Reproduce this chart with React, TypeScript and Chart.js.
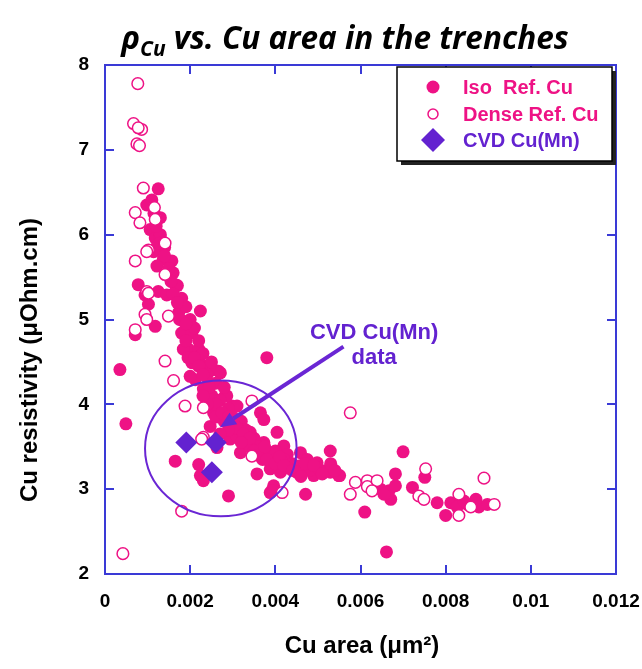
import React, { useEffect, useRef } from 'react';
import { Chart, registerables } from 'chart.js';

Chart.register(...registerables);

// ---- data ----
const isoX = [
  0.00125, 0.00098, 0.0011, 0.00106, 0.00118, 0.00122, 0.00129, 0.00114, 0.00149, 0.00137,
  0.00157, 0.00122, 0.00078, 0.00094, 0.00102, 0.00125, 0.00145, 0.00165, 0.00118, 0.00071,
  0.00224, 0.00173, 0.00184, 0.0018, 0.00204, 0.00196, 0.0022, 0.00204, 0.00235, 0.00267,
  0.00212, 0.00243, 0.00035, 0.00282, 0.00298, 0.00251, 0.0038, 0.00184, 0.00224, 0.00255,
  0.00271, 0.002, 0.00231, 0.00286, 0.0031, 0.00255, 0.00365, 0.00373, 0.00247, 0.0031,
  0.00341, 0.00404, 0.00294, 0.00333, 0.00373, 0.0042, 0.00318, 0.00357, 0.00388, 0.00428,
  0.00459, 0.00475, 0.00498, 0.00529, 0.00529, 0.00549, 0.0049, 0.00467, 0.00357, 0.00388,
  0.00412, 0.00435, 0.00396, 0.00388, 0.0029, 0.00471, 0.00165, 0.0022, 0.00224, 0.00231,
  0.007, 0.00551, 0.00682, 0.00647, 0.00667, 0.00671, 0.00655, 0.00682, 0.00722, 0.00751,
  0.0061, 0.00661, 0.0078, 0.008, 0.00812, 0.00835, 0.00827, 0.00851, 0.00871, 0.00878,
  0.00898, 0.00843, 0.00049, 0.00263, 0.00392,
  0.0016, 0.0017, 0.0018, 0.0019, 0.002, 0.0021, 0.0019, 0.0022, 0.0023, 0.0025,
  0.0024, 0.0026, 0.0028, 0.0027, 0.0029, 0.003, 0.0032, 0.0028, 0.0026, 0.0033,
  0.0035, 0.0036, 0.0038, 0.004, 0.0042, 0.0044, 0.0046, 0.0031, 0.0034, 0.0037,
  0.0039, 0.0043, 0.0045, 0.0048, 0.005, 0.0052, 0.0013, 0.0013, 0.0014,
  0.00115, 0.0012, 0.00128, 0.0014, 0.0015, 0.00155, 0.0016, 0.0017, 0.00175, 0.0019,
  0.00195, 0.0021, 0.0022, 0.0023, 0.00245, 0.0026, 0.00275, 0.0029, 0.003, 0.0031,
  0.00325, 0.0034, 0.0035, 0.0036, 0.00375, 0.0038, 0.004, 0.0041, 0.0042, 0.0044,
  0.0046, 0.0047, 0.0049, 0.0051, 0.0053, 0.0054, 0.0032, 0.0029, 0.0027, 0.0024,
  0.0023,
];
const isoY = [
  6.54, 6.35, 6.41, 6.06, 5.96, 5.86, 5.98, 5.8, 5.69, 5.71,
  5.69, 5.63, 5.41, 5.29, 5.18, 5.33, 5.29, 5.41, 4.92, 4.82,
  5.1, 5.08, 4.98, 4.84, 4.84, 4.65, 4.65, 4.49, 4.45, 4.39,
  4.29, 4.25, 4.41, 4.1, 3.98, 4.1, 4.55, 4.65, 4.57, 4.41,
  4.37, 4.33, 4.18, 4.1, 3.98, 3.9, 3.9, 3.82, 3.74, 3.71,
  3.67, 3.67, 3.59, 3.55, 3.55, 3.51, 3.43, 3.43, 3.39, 3.41,
  3.43, 3.35, 3.31, 3.45, 3.2, 3.16, 3.16, 3.24, 3.18, 3.24,
  3.2, 3.27, 3.04, 2.96, 2.92, 2.94, 3.33, 3.29, 3.16, 3.1,
  3.44, 3.16, 3.18, 3.0, 2.98, 2.88, 2.94, 3.04, 3.02, 3.14,
  2.73, 2.26, 2.84, 2.69, 2.84, 2.86, 2.79, 2.82, 2.88, 2.79,
  2.82, 2.86, 3.77, 3.49, 2.98,
  5.55, 5.4, 5.25, 5.15, 5.0, 4.9, 4.75, 4.75, 4.6, 4.5,
  4.35, 4.25, 4.2, 4.05, 3.95, 3.85, 3.8, 3.8, 3.85, 3.7,
  3.6, 3.5, 3.45, 3.45, 3.35, 3.3, 3.28, 3.62, 3.5, 3.35,
  3.3, 3.25, 3.2, 3.22, 3.25, 3.22, 6.2, 6.0, 5.85,
  6.25, 6.1, 5.9, 5.75, 5.6, 5.45, 5.3, 5.2, 5.0, 4.95,
  4.55, 4.55, 4.45, 4.35, 4.2, 4.0, 3.9, 3.85, 3.78, 3.72,
  3.65, 3.6, 3.45, 3.4, 3.5, 3.35, 3.3, 3.38, 3.28, 3.22,
  3.15, 3.3, 3.28, 3.18, 3.3, 3.22, 3.55, 3.7, 3.65, 4.0,
  4.1,
];

const denseX = [
  0.00042, 0.00077, 0.00067, 0.00086, 0.00078, 0.00075, 0.00081, 0.0009, 0.00071, 0.00082,
  0.00118, 0.00141, 0.00102, 0.00071, 0.00141, 0.00098, 0.00102, 0.00094, 0.00098, 0.00149,
  0.00071, 0.00141, 0.00161, 0.00188, 0.00098, 0.00345, 0.00231, 0.00576, 0.00231, 0.00588,
  0.00576, 0.00416, 0.0018, 0.00345, 0.00227, 0.00616, 0.00616, 0.00639, 0.00627, 0.00753,
  0.00737, 0.00749, 0.0089, 0.00831, 0.00831, 0.00914, 0.00859, 0.00116,
];
const denseY = [
  2.24, 7.78, 7.31, 7.24, 7.26, 7.07, 7.05, 6.55, 6.26, 6.14,
  6.18, 5.9, 5.82, 5.69, 5.53, 5.33, 5.31, 5.06, 5.0, 5.04,
  4.88, 4.51, 4.28, 3.98, 5.8, 4.04, 3.96, 3.9, 3.61, 3.08,
  2.94, 2.96, 2.74, 3.39, 3.59, 3.1, 3.03, 3.1, 2.98, 3.24,
  2.92, 2.88, 3.13, 2.94, 2.69, 2.82, 2.79, 6.32,
];

const cvdX = [0.00191, 0.0026, 0.00251];
const cvdY = [3.55, 3.55, 3.2];

const seriesLabels = ['Iso  Ref. Cu', 'Dense Ref. Cu', 'CVD Cu(Mn)'];
const xTickLabels = ['0', '0.002', '0.004', '0.006', '0.008', '0.01', '0.012'];
const yTickLabels = ['2', '3', '4', '5', '6', '7', '8'];
const xAxisTitle = 'Cu area (μm²)';
const yAxisTitle = 'Cu resistivity (μOhm.cm)';
const noteLines = ['CVD Cu(Mn)', 'data'];

// annotation geometry in data units
const ellipseSpec = { cx: 0.00272, cy: 3.48, rx: 0.00178, ry: 0.8 };
const arrowSpec = { x0: 0.0056, y0: 4.68, x1: 0.0027, y1: 3.73 };
const notePos = { x: 0.00632, y: 4.765, dy: 25 };

const PINK = '#ee1285';
const PURPLE = '#6322d0';
const LINE_PURPLE = '#6a26d4';
const AXIS_BLUE = '#3a3ad6';
const FONT = '"Liberation Sans", Arial, sans-serif';

const toPts = (xs: number[], ys: number[]) => xs.map((x, i) => ({ x, y: ys[i] }));

const decorPlugin = {
  id: 'decor',
  beforeDatasetsDraw(chart: any) {
    const { ctx, chartArea: a, scales } = chart;
    const xs = scales.x, ys = scales.y;
    ctx.save();
    ctx.strokeStyle = AXIS_BLUE;
    ctx.lineWidth = 2;
    const L = 9;
    ctx.beginPath();
    xs.ticks.forEach((t: any, i: number) => {
      if (i === 0 || i === xs.ticks.length - 1) return;
      const px = Math.round(xs.getPixelForValue(t.value));
      ctx.moveTo(px, a.bottom); ctx.lineTo(px, a.bottom - L);
      ctx.moveTo(px, a.top); ctx.lineTo(px, a.top + L);
    });
    ys.ticks.forEach((t: any, i: number) => {
      if (i === 0 || i === ys.ticks.length - 1) return;
      const py = Math.round(ys.getPixelForValue(t.value));
      ctx.moveTo(a.left, py); ctx.lineTo(a.left + L, py);
      ctx.moveTo(a.right, py); ctx.lineTo(a.right - L, py);
    });
    ctx.stroke();
    ctx.restore();
  },
  afterDatasetsDraw(chart: any) {
    const { ctx, chartArea: a, scales } = chart;
    const xs = scales.x, ys = scales.y;
    ctx.save();
    // frame
    ctx.strokeStyle = AXIS_BLUE;
    ctx.lineWidth = 2;
    ctx.strokeRect(a.left, a.top, a.right - a.left, a.bottom - a.top);

    // ellipse
    const cx = xs.getPixelForValue(ellipseSpec.cx);
    const cy = ys.getPixelForValue(ellipseSpec.cy);
    const rx = Math.abs(xs.getPixelForValue(ellipseSpec.cx + ellipseSpec.rx) - cx);
    const ry = Math.abs(ys.getPixelForValue(ellipseSpec.cy + ellipseSpec.ry) - cy);
    ctx.strokeStyle = LINE_PURPLE;
    ctx.lineWidth = 2;
    ctx.beginPath();
    ctx.ellipse(cx, cy, rx, ry, 0, 0, Math.PI * 2);
    ctx.stroke();

    // arrow
    const ax0 = xs.getPixelForValue(arrowSpec.x0), ay0 = ys.getPixelForValue(arrowSpec.y0);
    const ax1 = xs.getPixelForValue(arrowSpec.x1), ay1 = ys.getPixelForValue(arrowSpec.y1);
    const ang = Math.atan2(ay1 - ay0, ax1 - ax0);
    const head = 16, hw = 7;
    const bx = ax1 - Math.cos(ang) * head, by = ay1 - Math.sin(ang) * head;
    ctx.lineWidth = 4;
    ctx.beginPath();
    ctx.moveTo(ax0, ay0);
    ctx.lineTo(bx, by);
    ctx.stroke();
    ctx.fillStyle = LINE_PURPLE;
    ctx.beginPath();
    ctx.moveTo(ax1, ay1);
    ctx.lineTo(bx + Math.sin(ang) * hw, by - Math.cos(ang) * hw);
    ctx.lineTo(bx - Math.sin(ang) * hw, by + Math.cos(ang) * hw);
    ctx.closePath();
    ctx.fill();

    // note text
    ctx.fillStyle = PURPLE;
    ctx.font = `bold 22px ${FONT}`;
    ctx.textAlign = 'center';
    ctx.textBaseline = 'alphabetic';
    const nx = xs.getPixelForValue(notePos.x), ny = ys.getPixelForValue(notePos.y);
    noteLines.forEach((s, i) => ctx.fillText(s, nx, ny + i * notePos.dy));

    // legend box
    const lx = 397, ly = 67, lw = 215, lh = 94;
    ctx.fillStyle = '#222';
    ctx.fillRect(lx + 4, ly + 4, lw, lh);
    ctx.fillStyle = '#fff';
    ctx.fillRect(lx, ly, lw, lh);
    ctx.strokeStyle = '#000';
    ctx.lineWidth = 1.5;
    ctx.strokeRect(lx, ly, lw, lh);
    const rows = [87, 114, 140];
    const colors = [PINK, PINK, PURPLE];
    ctx.font = `bold 20px ${FONT}`;
    ctx.textAlign = 'left';
    ctx.textBaseline = 'middle';
    rows.forEach((ry2, i) => {
      const ix = 433;
      ctx.beginPath();
      if (i === 0) {
        ctx.arc(ix, ry2, 6.5, 0, Math.PI * 2);
        ctx.fillStyle = PINK; ctx.fill();
      } else if (i === 1) {
        ctx.arc(ix, ry2, 5, 0, Math.PI * 2);
        ctx.fillStyle = '#fff'; ctx.fill();
        ctx.strokeStyle = PINK; ctx.lineWidth = 1.5; ctx.stroke();
      } else {
        ctx.moveTo(ix - 12, ry2); ctx.lineTo(ix, ry2 - 12); ctx.lineTo(ix + 12, ry2); ctx.lineTo(ix, ry2 + 12);
        ctx.closePath();
        ctx.fillStyle = PURPLE; ctx.fill();
      }
      ctx.fillStyle = colors[i];
      ctx.fillText(seriesLabels[i], 463, ry2 + 1);
    });

    // axis titles
    ctx.fillStyle = '#000';
    ctx.font = `bold 24px ${FONT}`;
    ctx.textAlign = 'center';
    ctx.textBaseline = 'middle';
    ctx.fillText(xAxisTitle, 362, 646);
    ctx.save();
    ctx.translate(30, 360);
    ctx.rotate(-Math.PI / 2);
    ctx.fillText(yAxisTitle, 0, 0);
    ctx.restore();

    // main title: rho_Cu vs. Cu area in the trenches
    const tf = '"Open Sans", "Noto Sans", sans-serif';
    const big = 31.5, small = 21;
    ctx.textBaseline = 'alphabetic';
    ctx.textAlign = 'left';
    ctx.font = `italic bold ${big}px ${tf}`;
    const rho = 'ρ';
    const rest = ' vs. Cu area in the trenches';
    const wRho = ctx.measureText(rho).width;
    const wRest = ctx.measureText(rest).width;
    ctx.font = `italic bold ${small}px ${tf}`;
    const wSub = ctx.measureText('Cu').width;
    const total = wRho + wSub + wRest;
    let tx = 345 - total / 2;
    const base = 49;
    ctx.fillStyle = '#000';
    ctx.font = `italic bold ${big}px ${tf}`;
    ctx.fillText(rho, tx, base);
    tx += wRho;
    ctx.font = `italic bold ${small}px ${tf}`;
    ctx.fillText('Cu', tx, base + 7);
    tx += wSub;
    ctx.font = `italic bold ${big}px ${tf}`;
    ctx.fillText(rest, tx, base);
    ctx.restore();
  },
};

export default function App() {
  const ref = useRef<HTMLCanvasElement | null>(null);
  useEffect(() => {
    if (!ref.current) return;
    const chart = new Chart(ref.current, {
      type: 'scatter',
      data: {
        datasets: [
          {
            label: seriesLabels[2],
            data: toPts(cvdX, cvdY),
            pointStyle: 'rectRot',
            pointRadius: 11,
            backgroundColor: PURPLE,
            borderColor: PURPLE,
            borderWidth: 0,
            order: 0,
          },
          {
            label: seriesLabels[1],
            data: toPts(denseX, denseY),
            pointStyle: 'circle',
            pointRadius: 5.8,
            backgroundColor: '#ffffff',
            borderColor: PINK,
            borderWidth: 1.5,
            order: 1,
          },
          {
            label: seriesLabels[0],
            data: toPts(isoX, isoY),
            pointStyle: 'circle',
            pointRadius: 6.5,
            backgroundColor: PINK,
            borderColor: PINK,
            borderWidth: 0,
            order: 2,
          },
        ],
      },
      options: {
        animation: false,
        responsive: true,
        maintainAspectRatio: false,
        layout: { padding: { top: 65, right: 26, bottom: 0, left: 0 } },
        plugins: {
          legend: { display: false },
          title: { display: false },
          tooltip: { enabled: false },
        },
        scales: {
          x: {
            type: 'linear',
            min: 0,
            max: 0.012,
            grid: { display: false, drawTicks: false },
            border: { display: false },
            ticks: {
              stepSize: 0.002,
              autoSkip: false,
              maxRotation: 0,
              padding: 16,
              color: '#000',
              font: { family: FONT, size: 19, weight: 'bold' },
              callback: (_v: any, i: number) => xTickLabels[i],
            },
            afterFit: (s: any) => { s.height = 95; s.paddingLeft = 0; s.paddingRight = 0; },
          },
          y: {
            type: 'linear',
            min: 2,
            max: 8,
            grid: { display: false, drawTicks: false },
            border: { display: false },
            ticks: {
              stepSize: 1,
              padding: 16,
              color: '#000',
              font: { family: FONT, size: 19, weight: 'bold' },
              callback: (_v: any, i: number) => yTickLabels[i],
            },
            afterFit: (s: any) => { s.width = 105; s.paddingTop = 0; s.paddingBottom = 0; },
          },
        },
      },
      plugins: [decorPlugin],
    });
    return () => chart.destroy();
  }, []);
  return (
    <div style={{ position: 'fixed', left: 0, top: 0, width: 642, height: 669, background: '#fff' }}>
      <canvas ref={ref} />
    </div>
  );
}
